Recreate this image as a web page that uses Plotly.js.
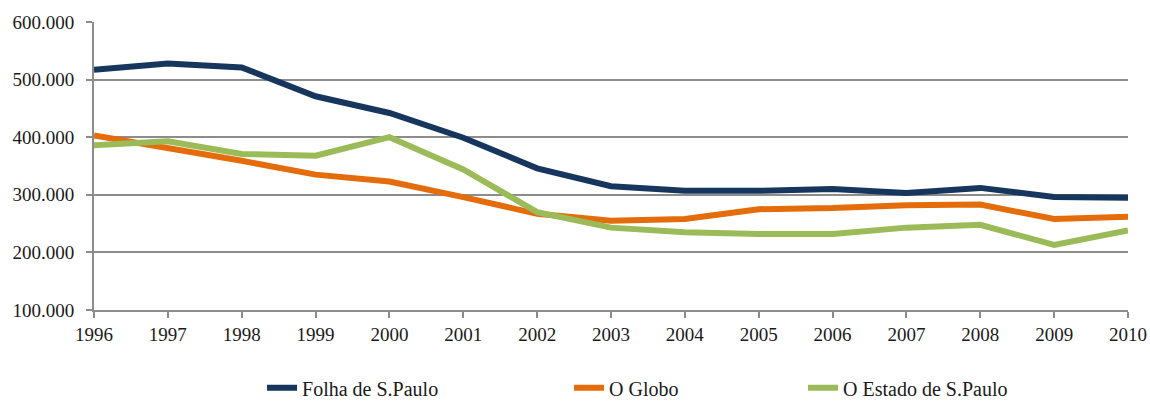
<!DOCTYPE html>
<html>
<head>
<meta charset="utf-8">
<script src="https://cdn.plot.ly/plotly-3.0.1.min.js"></script>
<style>html,body{margin:0;padding:0;background:#fff;}#chart{width:1150px;height:401px;}</style>
</head>
<body>
<div id="chart"></div>
<script>
const years = ['1996','1997','1998','1999','2000','2001','2002','2003','2004','2005','2006','2007','2008','2009','2010'];
const folha = [517000,528000,521000,471000,442000,399000,346000,315000,307000,307000,310000,303000,312000,296000,295000];
const globo = [403000,382000,359000,335000,323000,296000,267000,255000,258000,275000,277000,282000,283000,258000,262000];
const estado = [386000,393000,371000,368000,400000,344000,270000,243000,235000,232000,232000,243000,248000,213000,238000];
const names = ['Folha de S.Paulo','O Globo','O Estado de S.Paulo'];
const colors = ['#17365D','#E46C0A','#9BBB59'];
const series = [folha, globo, estado];
const legendIds = ['legend','legend2','legend3'];

const FONT = '"Liberation Serif", "Times New Roman", Times, serif';

const traces = series.map((s,i)=>({
  x: years, y: s, name: names[i], type:'scatter', mode:'lines',
  line:{color:colors[i], width:6}, legend: legendIds[i]
}));

const legendX = [0.1625, 0.4594, 0.6857];
const mkLegend = (x)=>({orientation:'h', x:x, xanchor:'left', y:-0.27, yanchor:'middle',
  bgcolor:'rgba(0,0,0,0)', borderwidth:0, font:{family:FONT, size:20, color:'#1a1a1a'}});

const layout = {
  width:1150, height:401,
  margin:{l:94, r:22, t:22, b:91, autoexpand:false},
  paper_bgcolor:'#fff', plot_bgcolor:'#fff',
  separators:',.',
  font:{family:FONT, size:19, color:'#1a1a1a'},
  xaxis:{type:'category', range:[0,14], showgrid:false, showline:true, linecolor:'#8c8c8c', linewidth:2,
         ticks:'outside', ticklen:6, tickcolor:'#8c8c8c', tickwidth:2, tickfont:{family:FONT, size:19}, zeroline:false},
  yaxis:{range:[100000,600000], dtick:100000, tickformat:',d', showgrid:true, gridcolor:'#8c8c8c', gridwidth:2,
         showline:true, linecolor:'#8c8c8c', linewidth:2, ticks:'outside', ticklen:6, tickcolor:'#8c8c8c', tickwidth:2,
         ticklabelstandoff:8, tickfont:{family:FONT, size:19}, zeroline:false},
  showlegend:true,
  legend: mkLegend(legendX[0]),
  legend2: mkLegend(legendX[1]),
  legend3: mkLegend(legendX[2])
};
Plotly.newPlot('chart', traces, layout, {displayModeBar:false, staticPlot:true});
</script>
</body>
</html>
